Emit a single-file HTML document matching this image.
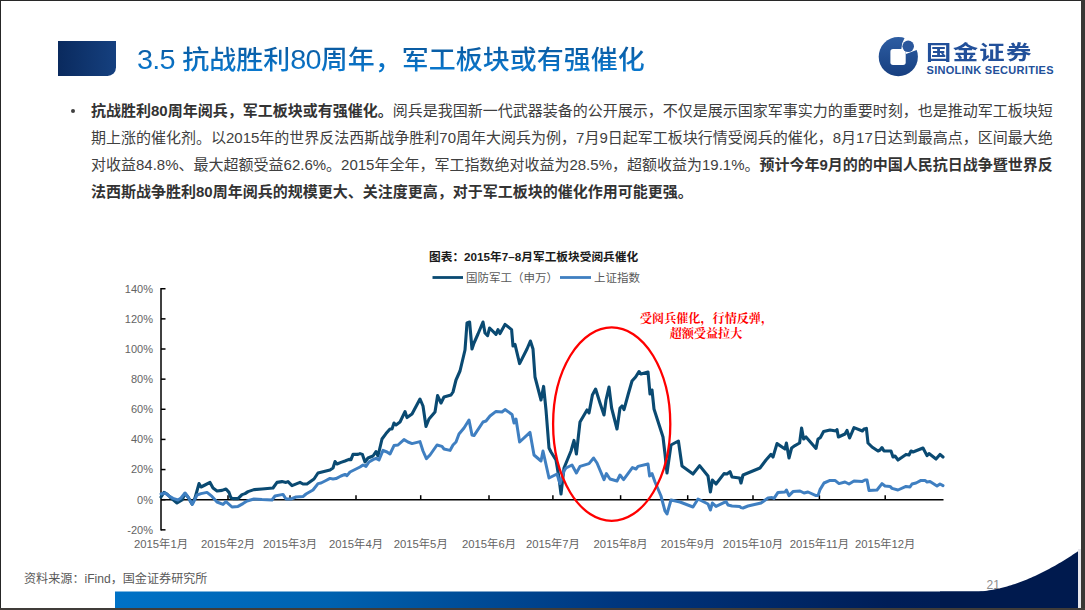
<!DOCTYPE html>
<html lang="zh-CN"><head><meta charset="utf-8"><title>3.5 抗战胜利80周年，军工板块或有强催化</title>
<style>
html,body{margin:0;padding:0;}
body{width:1085px;height:610px;position:relative;overflow:hidden;background:#fff;font-family:"Liberation Sans","Noto Sans CJK SC",sans-serif;}
.bt{position:absolute;left:0;top:0;width:1085px;height:1px;background:#282828;}
.bl{position:absolute;left:0;top:0;width:1px;height:610px;background:#262626;}
.br{position:absolute;left:1081px;top:0;width:4px;height:610px;background:#393735;}
.bb{position:absolute;left:0;top:608px;width:1085px;height:2px;background:#403c39;}
.tblock{position:absolute;left:58px;top:41px;width:58px;height:35px;background:linear-gradient(90deg,#0a2a5e,#15407f);border-bottom-right-radius:8.5px;}
.title{position:absolute;left:137px;top:41.3px;font-size:27px;line-height:40px;color:transparent;background:linear-gradient(180deg,#0A5AA0 0%,#0A5AA0 15%,#0977CD 75%,#0977CD 100%);-webkit-background-clip:text;background-clip:text;font-weight:500;transform:scaleY(0.96);transform-origin:0 5.7px;white-space:nowrap;}
.dg{font-size:28.8px;line-height:20px;letter-spacing:-0.75px;}
.logo-cn{position:absolute;left:925.5px;top:38.2px;font-size:20px;line-height:30px;font-weight:bold;color:#22509A;letter-spacing:1px;white-space:nowrap;transform:scaleX(1.27);transform-origin:0 0;}
.logo-en{position:absolute;left:926.5px;top:64.3px;font-size:11px;line-height:13px;font-weight:bold;color:#22509A;letter-spacing:0.3px;white-space:nowrap;}
.body{position:absolute;left:91px;top:96.6px;width:961.5px;font-size:15px;line-height:27.1px;color:#404040;}
.ln{white-space:nowrap;text-align:justify;text-align-last:justify;height:27.1px;}
.ln.last{text-align-last:left;}
.body b{color:#333;}
.bullet{position:absolute;left:70.7px;top:108.5px;width:4px;height:4px;border-radius:50%;background:#404040;}
.src{position:absolute;left:24px;top:569.7px;font-size:12.1px;line-height:18px;color:#595959;white-space:nowrap;}
.pg{position:absolute;left:986.5px;top:577.3px;font-size:12px;line-height:16px;color:#8c8c8c;}
.chart{position:absolute;left:0;top:0;}
.chart text{font-family:"Liberation Sans","Noto Sans CJK SC",sans-serif;}
.yl{font-size:11px;fill:#636363;}
.xl{font-size:11.3px;fill:#636363;}
.ct{font-size:11.7px;font-weight:bold;fill:#1a1a1a;}
.lg{font-size:11.5px;fill:#595959;}
.an{font-size:12.1px;font-weight:bold;fill:#FF0000;font-family:"Liberation Serif","Noto Serif CJK SC",serif !important;}
</style></head><body>
<div class="tblock"></div>
<div class="title"><span class="dg">3.5</span> 抗战胜利<span class="dg">80</span>周年，军工板块或有强催化</div>
<svg style="position:absolute;left:0;top:0" width="1085" height="610" viewBox="0 0 1085 610">
<defs><clipPath id="lc"><circle cx="898.5" cy="57" r="19.5"/></clipPath>
<linearGradient id="lg1" x1="0" y1="0" x2="0" y2="1"><stop offset="0" stop-color="#2D5DA2"/><stop offset="1" stop-color="#173F80"/></linearGradient>
<linearGradient id="band" x1="0" y1="0" x2="1" y2="0"><stop offset="0" stop-color="#0072C6"/><stop offset="0.22" stop-color="#0062B0"/><stop offset="0.52" stop-color="#00367E"/><stop offset="0.8" stop-color="#001E58"/><stop offset="1" stop-color="#001A4E"/></linearGradient>
</defs>
<circle cx="898.3" cy="56.7" r="19.6" fill="url(#lg1)"/>
<polygon points="901.3,49.3 902.2,43.2 906.9,33 923,36 922,48 905.9,54 905.9,49.3" fill="#fff"/>
<rect x="890.4" y="49.1" width="15.3" height="15.8" rx="2.6" fill="#fff"/>
<circle cx="908.2" cy="46.3" r="5.8" fill="#2A579C"/>
<rect x="115" y="591.5" width="966" height="16.5" fill="url(#band)"/>
<path d="M940,591.6 L975.0,591.60 L977.0,591.56 L979.0,591.46 L981.0,591.32 L983.0,591.14 L985.0,590.92 L987.0,590.66 L989.0,590.37 L991.0,590.05 L993.0,589.69 L995.0,589.31 L997.0,588.89 L999.0,588.44 L1001.0,587.97 L1003.0,587.47 L1005.0,586.94 L1007.0,586.38 L1009.0,585.79 L1011.0,585.18 L1013.0,584.55 L1015.0,583.88 L1017.0,583.19 L1019.0,582.48 L1021.0,581.74 L1023.0,580.98 L1025.0,580.20 L1027.0,579.39 L1029.0,578.55 L1031.0,577.69 L1033.0,576.81 L1035.0,575.91 L1037.0,574.98 L1039.0,574.03 L1041.0,573.06 L1043.0,572.07 L1045.0,571.05 L1047.0,570.01 L1049.0,568.95 L1051.0,567.87 L1053.0,566.77 L1055.0,565.64 L1057.0,564.50 L1059.0,563.33 L1061.0,562.14 L1063.0,560.93 L1065.0,559.70 L1067.0,558.45 L1069.0,557.18 L1071.0,555.89 L1073.0,554.57 L1075.0,553.24 L1077.0,551.89 L1079.0,550.52 L1079,549.5 L1079,608 L940,608 Z" fill="#001A4E"/>
<rect x="1078" y="549" width="3" height="59" fill="#e8e8ee"/>
</svg>
<div class="logo-cn">国金证券</div>
<div class="logo-en">SINOLINK SECURITIES</div>
<div class="bullet"></div>
<div class="body"><div class="ln"><b>抗战胜利80周年阅兵，军工板块或有强催化。</b>阅兵是我国新一代武器装备的公开展示，不仅是展示国家军事实力的重要时刻，也是推动军工板块短</div><div class="ln">期上涨的催化剂。以2015年的世界反法西斯战争胜利70周年大阅兵为例，7月9日起军工板块行情受阅兵的催化，8月17日达到最高点，区间最大绝</div><div class="ln">对收益84.8%、最大超额受益62.6%。2015年全年，军工指数绝对收益为28.5%，超额收益为19.1%。<b>预计今年9月的的中国人民抗日战争暨世界反</b></div><div class="ln last"><b>法西斯战争胜利80周年阅兵的规模更大、关注度更高，对于军工板块的催化作用可能更强。</b></div></div>
<svg class="chart" width="1085" height="610" viewBox="0 0 1085 610">
<line x1="161" y1="287.97" x2="161" y2="530.59" stroke="#000" stroke-width="1.5"/>
<line x1="161" y1="288.72" x2="165.5" y2="288.72" stroke="#000" stroke-width="1.5"/>
<text x="153" y="292.52" text-anchor="end" class="yl">140%</text>
<line x1="161" y1="318.86" x2="165.5" y2="318.86" stroke="#000" stroke-width="1.5"/>
<text x="153" y="322.66" text-anchor="end" class="yl">120%</text>
<line x1="161" y1="349.00" x2="165.5" y2="349.00" stroke="#000" stroke-width="1.5"/>
<text x="153" y="352.80" text-anchor="end" class="yl">100%</text>
<line x1="161" y1="379.14" x2="165.5" y2="379.14" stroke="#000" stroke-width="1.5"/>
<text x="153" y="382.94" text-anchor="end" class="yl">80%</text>
<line x1="161" y1="409.28" x2="165.5" y2="409.28" stroke="#000" stroke-width="1.5"/>
<text x="153" y="413.08" text-anchor="end" class="yl">60%</text>
<line x1="161" y1="439.42" x2="165.5" y2="439.42" stroke="#000" stroke-width="1.5"/>
<text x="153" y="443.22" text-anchor="end" class="yl">40%</text>
<line x1="161" y1="469.56" x2="165.5" y2="469.56" stroke="#000" stroke-width="1.5"/>
<text x="153" y="473.36" text-anchor="end" class="yl">20%</text>
<line x1="161" y1="499.70" x2="165.5" y2="499.70" stroke="#000" stroke-width="1.5"/>
<text x="153" y="503.50" text-anchor="end" class="yl">0%</text>
<line x1="161" y1="529.84" x2="165.5" y2="529.84" stroke="#000" stroke-width="1.5"/>
<text x="153" y="533.64" text-anchor="end" class="yl">-20%</text>
<line x1="161" y1="499.70" x2="943.5" y2="499.70" stroke="#000" stroke-width="1.5"/>
<line x1="228" y1="499.70" x2="228" y2="495.20" stroke="#000" stroke-width="1.5"/>
<line x1="290" y1="499.70" x2="290" y2="495.20" stroke="#000" stroke-width="1.5"/>
<line x1="356" y1="499.70" x2="356" y2="495.20" stroke="#000" stroke-width="1.5"/>
<line x1="420.7" y1="499.70" x2="420.7" y2="495.20" stroke="#000" stroke-width="1.5"/>
<line x1="489" y1="499.70" x2="489" y2="495.20" stroke="#000" stroke-width="1.5"/>
<line x1="552.9" y1="499.70" x2="552.9" y2="495.20" stroke="#000" stroke-width="1.5"/>
<line x1="620.6" y1="499.70" x2="620.6" y2="495.20" stroke="#000" stroke-width="1.5"/>
<line x1="687.7" y1="499.70" x2="687.7" y2="495.20" stroke="#000" stroke-width="1.5"/>
<line x1="753" y1="499.70" x2="753" y2="495.20" stroke="#000" stroke-width="1.5"/>
<line x1="819.4" y1="499.70" x2="819.4" y2="495.20" stroke="#000" stroke-width="1.5"/>
<line x1="885.2" y1="499.70" x2="885.2" y2="495.20" stroke="#000" stroke-width="1.5"/>
<text x="161" y="547.5" text-anchor="middle" class="xl">2015年1月</text>
<text x="228" y="547.5" text-anchor="middle" class="xl">2015年2月</text>
<text x="290" y="547.5" text-anchor="middle" class="xl">2015年3月</text>
<text x="356" y="547.5" text-anchor="middle" class="xl">2015年4月</text>
<text x="420.7" y="547.5" text-anchor="middle" class="xl">2015年5月</text>
<text x="489" y="547.5" text-anchor="middle" class="xl">2015年6月</text>
<text x="552.9" y="547.5" text-anchor="middle" class="xl">2015年7月</text>
<text x="620.6" y="547.5" text-anchor="middle" class="xl">2015年8月</text>
<text x="687.7" y="547.5" text-anchor="middle" class="xl">2015年9月</text>
<text x="753" y="547.5" text-anchor="middle" class="xl">2015年10月</text>
<text x="819.4" y="547.5" text-anchor="middle" class="xl">2015年11月</text>
<text x="885.2" y="547.5" text-anchor="middle" class="xl">2015年12月</text>
<polyline fill="none" stroke="#0A4A72" stroke-width="3.1" stroke-linejoin="round" stroke-linecap="round" points="161.0,497.0 164.0,492.4 167.0,494.0 170.0,497.0 177.0,503.0 182.0,500.0 185.0,493.6 188.0,497.0 192.0,504.0 195.0,498.0 199.0,483.6 201.0,487.0 205.0,485.0 210.0,482.4 213.0,488.0 217.0,491.0 222.0,490.4 226.0,489.0 229.0,492.4 231.0,498.0 233.0,498.6 238.0,498.6 242.0,494.6 245.0,493.6 248.0,491.6 254.0,489.6 262.0,489.0 273.0,488.0 277.0,482.4 282.0,481.6 286.0,482.4 288.0,481.6 292.0,485.6 300.0,482.4 303.0,484.0 307.0,484.0 314.0,479.0 318.0,473.0 322.0,472.0 330.0,470.0 333.0,468.0 335.0,461.6 337.0,464.0 341.0,462.4 345.0,461.0 349.0,459.4 351.0,459.6 353.0,454.4 358.0,454.4 360.0,453.6 362.4,454.4 365.0,462.0 368.0,458.0 373.0,456.0 376.0,451.6 378.0,456.0 382.0,439.0 386.0,433.6 390.0,429.0 392.0,429.0 394.0,423.0 396.0,425.0 400.0,422.0 405.0,411.6 407.0,417.6 412.0,414.0 420.0,399.0 423.0,406.0 426.0,426.4 429.0,419.0 435.0,412.0 437.6,395.6 441.0,403.0 444.0,397.0 451.0,395.0 453.0,392.0 456.0,380.0 460.0,371.0 465.0,350.0 467.0,323.0 469.6,322.0 472.0,349.0 474.0,343.0 478.0,334.0 483.0,322.0 485.0,333.0 487.6,335.6 489.6,328.0 496.0,334.4 498.0,329.6 500.0,333.6 505.0,324.4 511.6,329.6 513.0,346.0 515.0,344.4 519.6,363.6 527.0,349.0 530.4,341.0 533.0,349.0 535.0,377.0 541.0,400.0 543.6,386.4 546.0,410.0 549.0,448.0 551.0,452.0 556.0,460.0 559.0,478.0 561.0,494.0 564.0,468.0 571.0,451.0 574.0,440.4 576.4,454.0 580.0,422.0 587.0,410.0 589.0,413.0 592.4,395.0 595.6,389.0 600.0,403.0 604.0,415.0 606.0,400.0 609.0,387.0 611.6,408.0 617.0,429.0 620.0,408.0 622.0,406.0 624.0,409.6 628.0,395.0 632.0,381.0 635.6,377.0 639.0,371.6 641.0,374.0 648.0,372.0 650.0,394.0 652.0,390.0 654.0,409.0 663.0,437.0 665.0,454.0 667.0,473.0 671.0,445.0 678.4,441.0 682.0,466.0 693.0,474.0 699.6,465.6 708.0,476.0 710.4,492.0 712.4,480.0 716.0,484.0 724.0,473.6 727.0,474.0 730.0,471.6 732.0,477.0 739.6,478.0 741.0,483.0 743.0,475.0 760.0,468.0 766.0,460.0 771.0,454.4 773.0,457.0 777.0,443.6 785.0,449.0 786.4,443.0 789.0,458.0 791.6,448.0 795.0,445.6 799.6,443.0 801.6,428.0 803.6,439.0 806.0,437.0 816.0,448.4 818.0,439.0 820.4,437.6 823.6,431.6 830.0,430.0 836.0,431.0 837.0,429.6 838.4,437.0 845.0,434.0 847.0,430.4 849.6,438.0 854.0,427.6 862.4,431.0 864.0,429.0 866.4,428.4 868.0,443.0 872.0,447.0 878.0,451.0 880.0,450.0 882.0,447.6 884.0,451.0 891.0,451.0 893.0,457.0 895.0,456.0 898.0,460.0 906.0,454.4 909.0,455.0 911.0,451.0 913.0,452.0 923.0,448.0 927.0,455.6 929.0,453.6 936.0,459.0 940.0,454.4 943.0,457.0"/>
<polyline fill="none" stroke="#3F7FC1" stroke-width="3" stroke-linejoin="round" stroke-linecap="round" points="161.0,494.0 165.0,493.0 169.0,496.0 173.0,498.4 178.0,500.0 181.0,498.0 185.0,493.0 188.0,497.0 192.4,504.4 197.0,495.0 201.0,493.6 207.0,492.4 212.0,496.4 217.0,502.0 223.0,504.4 226.0,501.6 232.0,507.0 238.0,506.4 243.0,503.6 247.0,501.0 254.0,499.0 262.0,499.6 272.0,500.0 275.0,496.0 283.0,494.4 286.0,499.0 291.0,499.0 296.0,497.0 303.0,496.6 306.0,494.0 313.0,490.0 318.0,483.6 321.0,483.0 325.0,481.0 330.0,478.4 333.0,479.0 336.0,478.6 341.0,476.0 345.0,474.4 347.0,475.6 350.0,472.0 358.0,468.0 360.0,467.0 363.0,465.0 366.0,466.4 369.0,462.0 373.0,459.6 376.0,458.4 379.0,460.0 383.0,450.4 387.0,452.0 390.0,454.0 394.0,445.6 398.0,445.0 404.0,439.6 408.0,442.0 412.0,443.6 420.0,441.6 423.0,451.0 426.4,458.6 430.0,455.0 437.0,445.0 442.0,446.4 444.0,449.0 450.0,450.4 453.0,445.0 456.0,442.0 459.0,434.0 464.0,428.0 469.0,420.0 472.0,435.0 474.0,435.6 483.0,422.0 486.0,421.0 490.0,416.0 496.0,411.4 502.0,412.0 505.0,409.6 512.0,414.4 514.0,423.0 516.0,419.0 519.6,442.0 530.0,432.4 534.0,455.0 541.0,461.0 543.0,451.0 549.0,478.0 557.0,474.0 560.0,483.6 564.0,471.0 566.0,468.0 572.0,465.0 576.4,473.0 580.0,466.4 589.0,463.6 593.6,458.0 597.0,463.0 604.0,479.6 606.4,473.6 610.0,479.0 617.0,481.0 620.0,475.0 623.6,479.6 632.4,467.6 636.0,469.0 638.0,466.4 648.0,464.0 649.6,476.0 652.0,473.6 655.0,482.0 661.0,496.0 665.0,511.0 667.0,514.0 671.0,500.0 680.0,502.0 693.0,507.0 698.0,499.0 708.0,504.0 710.4,510.0 712.4,503.0 716.0,506.4 726.0,501.6 728.0,505.0 732.0,506.0 739.6,506.4 741.0,507.6 743.0,508.0 748.0,506.0 761.0,503.0 768.0,498.0 772.0,497.6 774.0,498.4 778.0,492.4 785.0,492.0 786.4,490.0 789.0,495.6 793.0,491.6 800.0,491.0 804.0,493.0 808.0,492.0 816.0,495.6 818.0,495.6 820.0,489.6 824.0,483.0 830.0,480.4 835.0,480.4 839.0,483.6 845.0,482.0 849.0,484.0 854.0,481.0 862.0,481.6 865.0,480.0 867.0,480.0 869.0,490.4 877.0,490.0 882.0,483.6 885.0,486.0 890.0,486.4 892.0,488.4 898.0,490.0 906.0,486.4 910.0,487.0 912.0,484.0 916.0,483.0 921.0,480.4 925.0,480.4 927.0,482.0 930.0,481.6 937.0,486.0 940.0,484.0 943.0,485.6"/>
<ellipse cx="611.7" cy="424.1" rx="58.6" ry="96.7" fill="none" stroke="#FF0000" stroke-width="2.3"/>
<text x="429" y="261" class="ct">图表：2015年7–8月军工板块受阅兵催化</text>
<line x1="432.5" y1="277.5" x2="463" y2="277.5" stroke="#0A4A72" stroke-width="2.8"/>
<text x="466" y="281.5" class="lg">国防军工（申万）</text>
<line x1="560" y1="277.5" x2="591" y2="277.5" stroke="#3F7FC1" stroke-width="2.8"/>
<text x="594" y="281.5" class="lg">上证指数</text>
<text x="706.5" y="322.5" text-anchor="middle" class="an">受阅兵催化，行情反弹，</text>
<text x="706" y="337.5" text-anchor="middle" class="an">超额受益拉大</text>
</svg>
<div class="src">资料来源：iFind，国金证券研究所</div>
<div class="pg">21</div>
<div class="bt"></div><div class="bl"></div><div class="br"></div><div class="bb"></div>
</body></html>
